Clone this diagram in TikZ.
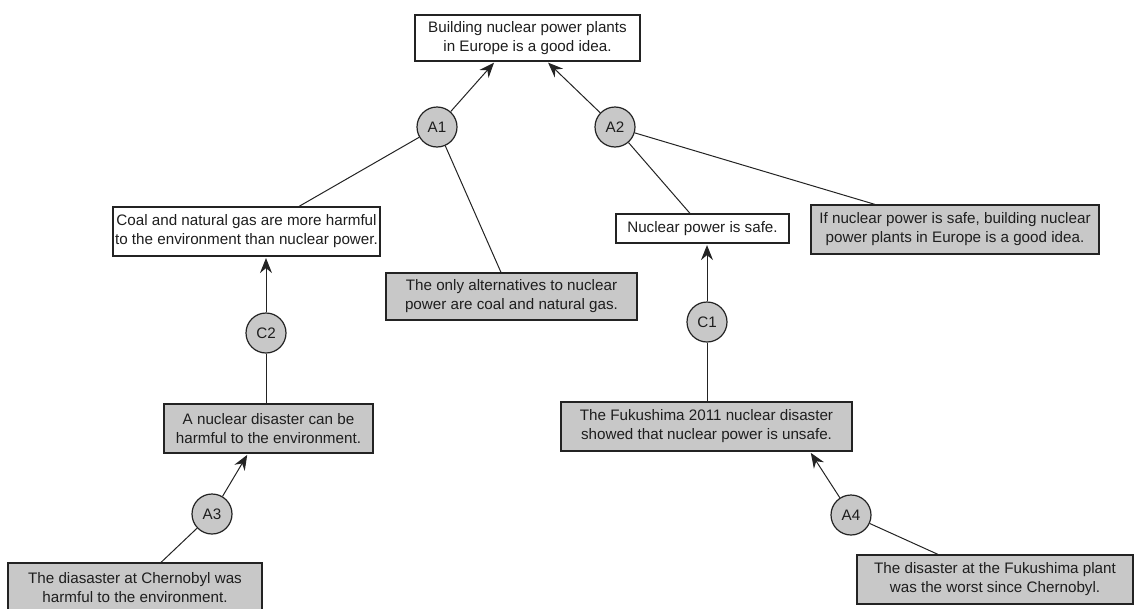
\documentclass[tikz,border=0pt]{standalone}
\usepackage{fontspec}
\setmainfont{Liberation Sans}
\usetikzlibrary{arrows.meta,calc}
\definecolor{boxgray}{RGB}{200,200,200}
\definecolor{edgegray}{RGB}{35,35,35}
\definecolor{textgray}{RGB}{30,30,30}
\tikzset{
  claim/.style={draw=edgegray, line width=1.2pt, fill=white, inner sep=0pt, align=center,
    text=textgray, font=\fontsize{15.2}{19}\selectfont},
  premise/.style={claim, fill=boxgray},
  arg/.style={circle, draw=edgegray, line width=1.2pt, fill=boxgray, minimum size=40pt, inner sep=0pt,
    text=textgray, font=\fontsize{15.2}{19}\selectfont},
  link/.style={draw=edgegray, line width=1pt},
  sup/.style={link, -{Stealth[length=15pt,width=12pt,inset=5pt]}, shorten >=1.5pt},
}
\begin{document}
\begin{tikzpicture}[x=1pt,y=-1pt]
\useasboundingbox (0,0) rectangle (1137,608);
\clip (0,0) rectangle (1137,608);
% statements
\node[claim, minimum width=225pt, minimum height=46pt] (T) at (527.5,38) {Building nuclear power plants\\in Europe is a good idea.};
\node[claim, minimum width=267pt, minimum height=49pt] (Coal) at (246.5,231.5) {Coal and natural gas are more harmful\\to the environment than nuclear power.};
\node[premise, minimum width=251pt, minimum height=47pt] (Alt) at (511.5,296.5) {The only alternatives to nuclear\\power are coal and natural gas.};
\node[claim, minimum width=173pt, minimum height=29pt] (NPS) at (702.5,228.5) {Nuclear power is safe.};
\node[premise, minimum width=288pt, minimum height=49pt] (If) at (955,229.5) {If nuclear power is safe, building nuclear\\power plants in Europe is a good idea.};
\node[premise, minimum width=209pt, minimum height=49pt] (AN) at (268.5,428.5) {A nuclear disaster can be\\harmful to the environment.};
\node[premise, minimum width=291pt, minimum height=49pt] (F1) at (706.5,426.5) {The Fukushima 2011 nuclear disaster\\showed that nuclear power is unsafe.};
\node[premise, minimum width=254pt, minimum height=49pt] (Ch) at (135,587.5) {The diasaster at Chernobyl was\\harmful to the environment.};
\node[premise, minimum width=276pt, minimum height=49pt] (FP) at (995,579.5) {The disaster at the Fukushima plant\\was the worst since Chernobyl.};
% argument nodes
\node[arg] (A1) at (437,127) {A1};
\node[arg] (A2) at (615,127) {A2};
\node[arg] (C2) at (266,333) {C2};
\node[arg] (C1) at (707,322) {C1};
\node[arg] (A3) at (212,514) {A3};
\node[arg] (A4) at (851,515) {A4};
% connectors
\draw[sup] (A1) -- ([xshift=-32.5pt]T.south);
\draw[sup] (A2) -- ([xshift=19.5pt]T.south);
\draw[link] (A1) -- ([xshift=52.5pt]Coal.north);
\draw[link] (A1) -- ([xshift=-10.5pt]Alt.north);
\draw[link] (A2) -- ([xshift=-12.5pt]NPS.north);
\draw[link] (A2) -- ([xshift=-80pt]If.north);
\draw[sup] (C2) -- (C2 |- Coal.south);
\draw[link] (C2) -- (C2 |- AN.north);
\draw[sup] (C1) -- (C1 |- NPS.south);
\draw[link] (C1) -- (C1 |- F1.north);
\draw[sup] (A3) -- ([xshift=-20.5pt]AN.south);
\draw[link] (A3) -- ([xshift=26pt]Ch.north);
\draw[sup] (A4) -- ([xshift=103.5pt]F1.south);
\draw[link] (A4) -- ([xshift=-57pt]FP.north);
\end{tikzpicture}
\end{document}
